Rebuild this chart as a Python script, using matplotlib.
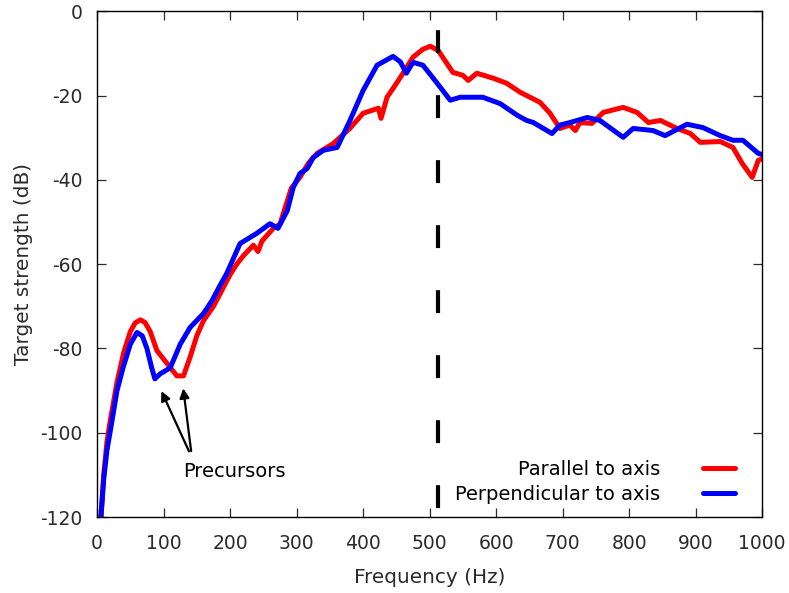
import matplotlib
matplotlib.use("Agg")
import matplotlib.pyplot as plt

plt.rcParams['font.family'] = ['DejaVu Sans']
plt.rcParams['axes.unicode_minus'] = False

# Parallel to axis (red)
par_f = [5, 10, 15, 20, 30, 40, 50, 57, 65, 72, 80, 90, 100, 110, 120, 130, 140, 150, 160, 175,
         190, 200, 210, 220, 235, 242, 248, 265, 275, 283, 292, 305, 318, 331, 355, 380, 400, 423,
         427, 436, 451, 460, 475, 490, 501, 513, 526, 535, 550, 558, 571, 596, 616, 636, 646, 666,
         681, 696, 711, 719, 726, 744, 761, 791, 812, 829, 847, 872, 892, 907, 937, 956, 970, 985,
         994, 1000]
par_db = [-122, -110, -102, -97, -88, -81, -76, -74, -73.2, -73.8, -76, -80.5, -82.5, -84.5, -86.5,
          -86.5, -82, -77, -73.4, -70, -65.5, -62.5, -60, -58, -55.5, -57, -54.5, -51.5, -50.5,
          -46.5, -42, -39.4, -36, -33.7, -31.4, -27.8, -24.2, -23, -25.4, -20.4, -16.9, -14.7,
          -10.9, -9, -8.3, -9.3, -12.4, -14.5, -15.2, -16.4, -14.7, -15.9, -17.1, -19.2, -20,
          -21.6, -24.2, -27.8, -27, -28.3, -26.4, -26.6, -24, -22.8, -24, -26.4, -25.9, -27.8,
          -29, -31.1, -30.9, -32.3, -36.1, -39.4, -35.4, -35]

# Perpendicular to axis (blue)
perp_f = [5, 10, 15, 20, 30, 39, 50, 60, 68, 75, 82, 87, 95, 110, 117, 125, 140, 160, 173, 185, 195,
          215, 240, 260, 272, 286, 295, 305, 316, 325, 340, 361, 380, 400, 421, 445, 456, 465, 475,
          490, 511, 531, 546, 580, 606, 632, 646, 656, 684, 696, 711, 737, 756, 791, 806, 836, 854,
          887, 911, 937, 956, 971, 994, 1000]
perp_db = [-122, -111, -104, -99.5, -90, -84.6, -79, -76.2, -77, -80, -84.5, -87.2, -86, -84.6, -82,
           -79, -75, -71.7, -68.6, -65, -62.2, -55.1, -52.7, -50.4, -51.5, -47.3, -41.8, -38.5,
           -37.3, -34.7, -33, -32.3, -26, -18.8, -12.8, -10.7, -12, -14.7, -12.1, -12.8, -17,
           -21.1, -20.4, -20.4, -21.9, -24.7, -25.9, -26.4, -29, -27, -26.4, -25.2, -25.9, -29.9,
           -27.8, -28.3, -29.5, -26.8, -27.6, -29.5, -30.6, -30.6, -33.7, -34]

cutoff_f = 513
x_ticks = [0, 100, 200, 300, 400, 500, 600, 700, 800, 900, 1000]
y_ticks = [0, -20, -40, -60, -80, -100, -120]

fig = plt.figure(figsize=(7.89, 5.93), dpi=100)
ax = fig.add_axes([0.123, 0.128, 0.843, 0.853])

ax.plot(par_f, par_db, color='#ff0000', lw=3.6, label='Parallel to axis', solid_capstyle='round')
ax.plot(perp_f, perp_db, color='#0000ff', lw=3.6, label='Perpendicular to axis', solid_capstyle='round')
ax.plot([cutoff_f, cutoff_f], [0, -120], color='black', lw=3.0,
        linestyle=(11, (5.5, 10.1)))

ax.set_xlim(0, 1000)
ax.set_ylim(-120, 0)
ax.set_xticks(x_ticks)
ax.set_yticks(y_ticks)
ax.tick_params(direction='in', top=True, right=True, length=6.5, width=0.9,
               labelsize=13.5, colors='#2a2a2a')
ax.tick_params(axis='x', pad=12)
ax.tick_params(axis='y', pad=10.5)
for s in ax.spines.values():
    s.set_linewidth(1.0)

ax.set_xlabel('Frequency (Hz)', fontsize=14.4, color='#2a2a2a', labelpad=11)
ax.set_ylabel('Target strength (dB)', fontsize=14.4, color='#2a2a2a', labelpad=5)

ax.annotate('', xy=(95, -89.5), xytext=(140, -105),
            arrowprops=dict(arrowstyle='-|>', color='black', lw=1.6, mutation_scale=14))
ax.annotate('', xy=(129, -88.8), xytext=(142, -105),
            arrowprops=dict(arrowstyle='-|>', color='black', lw=1.6, mutation_scale=14))
ax.text(207, -109.3, 'Precursors', ha='center', va='center', fontsize=14)

leg = ax.legend(loc='lower right', bbox_to_anchor=(0.9594, 0.026), frameon=False, markerfirst=False,
                fontsize=14, handlelength=1.64, handletextpad=2.2, labelspacing=0.3,
                borderaxespad=0, borderpad=0)

fig.savefig('out.png', dpi=100)
